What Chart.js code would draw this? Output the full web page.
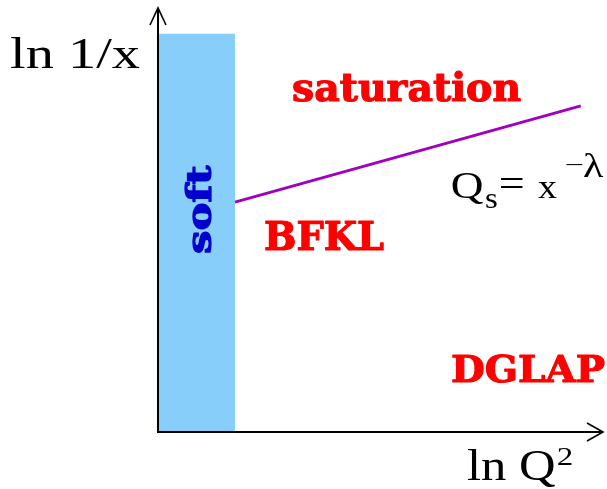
<!DOCTYPE html>
<html>
<head>
<meta charset="utf-8">
<script src="https://cdn.jsdelivr.net/npm/chart.js@4.4.1/dist/chart.umd.min.js"></script>
<style>
  html, body { margin: 0; padding: 0; background: #fff; }
  #wrap { width: 607px; height: 489px; position: relative; }
</style>
</head>
<body>
<div id="wrap"><canvas id="regionChart"></canvas></div>
<script>
// axis ranges (arbitrary ln Q^2 / ln 1/x units)
const xRange = [0, 10];
const yRange = [0, 10];

// soft region: x from 0 to its edge, filled up to softTop
const softX = [0, 1.73];
const softTop = [9.39, 9.39];

// saturation line Q_s = x^-lambda
const satLineX = [1.73, 9.5];
const satLineY = [5.42, 7.69];

const regionLabels = ['saturation', 'BFKL', 'DGLAP', 'soft'];

// stretch text so its ink spans [x, x + width], on baseline y
function fitText(ctx, text, x, y, width) {
    const m = ctx.measureText(text);
    const inkW = m.actualBoundingBoxLeft + m.actualBoundingBoxRight;
    const s = width / inkW;
    ctx.save();
    ctx.translate(x + m.actualBoundingBoxLeft * s, y);
    ctx.scale(s, 1);
    ctx.fillText(text, 0, 0);
    ctx.restore();
}

// stretch text so its ink fills the box; optional outline to make it heavier
function fitBox(ctx, text, left, top, right, bottom, heavy) {
    const m = ctx.measureText(text);
    const inkW = m.actualBoundingBoxLeft + m.actualBoundingBoxRight;
    const inkH = m.actualBoundingBoxAscent + m.actualBoundingBoxDescent;
    const sx = (right - left) / inkW;
    const sy = (bottom - top) / inkH;
    ctx.save();
    ctx.translate(left + m.actualBoundingBoxLeft * sx, top + m.actualBoundingBoxAscent * sy);
    ctx.scale(sx, sy);
    ctx.fillText(text, 0, 0);
    if (heavy) {
        ctx.strokeStyle = ctx.fillStyle;
        ctx.lineWidth = heavy;
        ctx.lineJoin = 'round';
        ctx.strokeText(text, 0, 0);
    }
    ctx.restore();
}

const diagramPlugin = {
    id: 'diagram',
    afterDatasetsDraw(chart) {
        const ctx = chart.ctx;
        const xs = chart.scales.x, ys = chart.scales.y;
        const x0 = xs.getPixelForValue(xRange[0]);
        const y0 = ys.getPixelForValue(yRange[0]);
        const xEnd = xs.getPixelForValue(xRange[1]);
        const yEnd = ys.getPixelForValue(yRange[1]);

        ctx.save();
        // axes with open arrow heads
        ctx.strokeStyle = '#000';
        ctx.lineWidth = 2;
        ctx.beginPath();
        ctx.moveTo(x0, y0 + 1);
        ctx.lineTo(x0, yEnd);
        ctx.moveTo(x0 - 1, y0);
        ctx.lineTo(xEnd, y0);
        ctx.stroke();
        ctx.lineWidth = 1.6;
        ctx.beginPath();
        ctx.moveTo(x0 - 8, yEnd + 17);
        ctx.lineTo(x0, yEnd);
        ctx.lineTo(x0 + 8, yEnd + 17);
        ctx.moveTo(xEnd - 16, y0 - 9);
        ctx.lineTo(xEnd, y0);
        ctx.lineTo(xEnd - 16, y0 + 9);
        ctx.stroke();

        // axis titles
        ctx.fillStyle = '#000';
        ctx.textBaseline = 'alphabetic';
        ctx.font = '44px "Liberation Serif"';
        fitText(ctx, 'ln 1/x', 10, 68, 130);
        fitText(ctx, 'ln Q', 467, 480, 89);
        ctx.font = '26px "Liberation Serif"';
        fitBox(ctx, '2', 558, 448, 572, 465);

        // Q_s = x^-lambda
        ctx.font = '38px "Liberation Serif"';
        fitText(ctx, 'Q', 452, 198, 31);
        ctx.font = '22px "Liberation Serif"';
        fitBox(ctx, 's', 485, 195, 497, 208);
        ctx.font = '38px "Liberation Serif"';
        fitBox(ctx, '=', 500, 178, 523, 188);
        fitBox(ctx, 'x', 538, 182, 557, 198);
        ctx.font = '26px "Liberation Serif"';
        fitBox(ctx, '\u2212', 566, 164, 583, 166.5);
        fitBox(ctx, '\u03bb', 583, 153, 604, 177);

        // region names
        ctx.fillStyle = '#ff0000';
        ctx.font = 'bold 40px "DejaVu Serif"';
        fitBox(ctx, regionLabels[0], 293, 72, 521, 102, 1.2);
        fitBox(ctx, regionLabels[1], 265, 222, 384, 250, 1.2);
        fitBox(ctx, regionLabels[2], 452, 354, 605, 383, 1.2);

        ctx.fillStyle = '#0000cc';
        ctx.save();
        ctx.translate(212, 253);
        ctx.rotate(-Math.PI / 2);
        ctx.font = 'bold 40px "DejaVu Serif"';
        fitBox(ctx, regionLabels[3], 0, -26, 88, 0, 1.5);
        ctx.restore();

        ctx.restore();
    }
};

const chartCtx = document.getElementById('regionChart').getContext('2d');
new Chart(chartCtx, {
    type: 'scatter',
    data: {
        datasets: [{
            label: 'soft',
            type: 'line',
            data: softX.map((x, i) => ({ x: x, y: softTop[i] })),
            borderWidth: 0,
            borderColor: 'rgba(0,0,0,0)',
            backgroundColor: '#87cefa',
            fill: 'origin',
            pointRadius: 0,
            order: 2
        }, {
            label: 'saturation line',
            type: 'line',
            data: satLineX.map((x, i) => ({ x: x, y: satLineY[i] })),
            borderColor: '#a000c0',
            borderWidth: 2.8,
            fill: false,
            pointRadius: 0,
            order: 1
        }]
    },
    options: {
        responsive: true,
        maintainAspectRatio: false,
        animation: false,
        layout: {
            padding: { left: 158, right: 4, top: 8, bottom: 57 }
        },
        plugins: {
            legend: { display: false },
            tooltip: { enabled: false }
        },
        scales: {
            x: { type: 'linear', min: xRange[0], max: xRange[1], display: false },
            y: { type: 'linear', min: yRange[0], max: yRange[1], display: false }
        }
    },
    plugins: [diagramPlugin]
});
</script>
</body>
</html>
